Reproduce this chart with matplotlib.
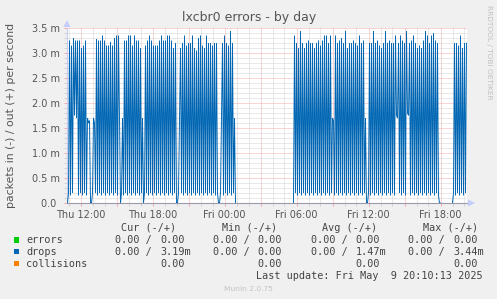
import numpy as np
import pandas as pd
import matplotlib
matplotlib.use('Agg')
from matplotlib import pyplot as plt
import matplotlib.dates as mdates
from matplotlib.patches import Polygon, Rectangle

W, H = 497, 299

# drops out (milli packets/s), one value per 5 min sample starting Thu 10:55
drops_out_thu = [
    0.0,
    0.2, 3.25, 0.15, 3.15, 0.2, 3.30, 1.75, 3.25, 1.70, 3.25, 0.15, 3.25, 0.2, 3.10, 0.15, 3.15, 0.2, 3.25, 0.15, 1.70, 1.6,
    1.65, 0.0, 0.0, 0.2, 1.7, 1.6, 0.2,
    3.28, 0.15, 3.25, 0.2, 3.25, 0.15, 3.35, 0.2, 3.25, 0.15, 3.15, 0.2, 3.15, 0.15, 3.22, 0.2, 3.15, 0.15, 3.30, 0.2, 3.35, 0.15, 3.35, 1.7,
    0.0, 0.2, 1.7, 0.15,
    3.25, 0.2, 3.25, 0.15, 3.35, 0.2, 3.35, 0.15, 3.15, 0.2, 3.35, 0.15, 3.25, 0.2, 3.25, 0.15, 3.10, 0.2, 1.7,
    0.0, 0.2,
    3.15, 0.2, 3.25, 0.15, 3.35, 0.2, 3.25, 0.15, 3.15, 0.2, 3.15, 0.15, 3.15, 0.2, 3.25, 0.15, 3.35, 0.2, 3.25, 0.15,
    3.25, 0.2, 3.35, 0.15, 3.35, 0.2, 3.25, 0.15, 3.10, 0.2, 3.20, 0.0,
    0.0, 0.2, 1.7,
    3.10, 0.2, 3.20, 0.15, 3.35, 0.2, 3.15, 0.15, 3.20, 0.2, 3.20, 0.15, 3.35, 0.2, 3.10, 0.15, 3.05, 0.2, 3.30, 0.15,
    3.35, 0.2, 3.15, 0.15, 3.10, 0.2, 3.35, 0.15, 3.20, 0.2, 3.20, 0.15, 3.15, 0.2, 3.20, 0.15, 3.20, 0.2, 0.0,
    0.0, 0.2, 1.7,
    3.20, 0.15, 3.35, 0.2, 3.20, 0.15, 3.15, 0.2, 3.44, 0.15, 3.20, 0.2, 1.7, 0.0,
]
night_gap = 57  # samples without data
drops_out_fri = [
    0.0,
    3.35, 0.2, 3.20, 0.15, 3.10, 0.2, 3.44, 0.15, 3.20, 0.2, 3.10, 0.15, 3.20, 0.2, 3.25, 0.15, 3.20, 0.2, 3.20, 0.15,
    3.10, 0.2, 3.20, 0.15, 3.25, 0.2, 3.15, 0.15, 3.25, 0.2, 3.35, 0.15, 3.35, 0.2, 3.20, 0.15, 3.35, 0.2, 1.7,
    1.65, 0.15,
    3.35, 0.2, 3.20, 0.15, 3.25, 0.2, 3.30, 0.15, 3.20, 0.2, 3.44, 0.15, 3.10, 0.2, 3.20, 0.15, 3.20, 0.2, 3.25, 0.15,
    3.20, 0.2, 3.15, 0.15, 3.35, 0.2, 3.20, 0.15, 3.25, 0.2, 1.7,
    0.0, 0.0, 0.2,
    3.20, 0.15, 3.20, 0.2, 3.44, 0.15, 3.20, 0.2, 3.25, 0.15, 3.15, 0.2, 3.10, 0.15, 3.20, 0.2, 3.44, 0.15, 3.20, 0.2,
    3.25, 0.15, 3.20, 0.2, 3.20, 0.15, 3.35, 1.75,
    1.7,
    3.20, 0.2, 3.35, 0.15, 3.25, 0.2, 3.20, 0.15, 3.44, 1.8, 1.75,
    3.20, 0.15, 3.25, 0.2, 3.35, 0.15, 3.20, 0.2, 3.10, 0.15, 3.15, 0.2, 3.10, 0.15, 3.25, 0.2, 3.44, 0.15, 3.35, 0.2,
    3.20, 0.15, 3.35, 0.2, 3.40, 0.15, 3.25, 0.2, 3.20, 0.15,
    0.0, 0.0,
]
evening_gap = 11
drops_out_eve = [
    0.0, 0.2,
    3.20, 0.15, 3.20, 0.2, 3.15, 0.15, 3.35, 0.2, 3.10, 0.15, 3.20, 0.2, 3.20, 3.19,
]

y_ticks = [0.0, 0.5, 1.0, 1.5, 2.0, 2.5, 3.0, 3.5]
y_tick_labels = ['0.0 ', '0.5 m', '1.0 m', '1.5 m', '2.0 m', '2.5 m', '3.0 m', '3.5 m']

legend_names = ['errors', 'drops', 'collisions']
legend_colors = ['#00CC00', '#0066B3', '#FF8000']
legend_headers = ['Cur (-/+)', 'Min (-/+)', 'Avg (-/+)', 'Max (-/+)']
# per row: (in, out) for Cur, Min, Avg, Max; in is None for collisions
legend_values = [
    [('0.00', '0.00'), ('0.00', '0.00'), ('0.00', '0.00'), ('0.00', '0.00')],
    [('0.00', '3.19m'), ('0.00', '0.00'), ('0.00', '1.47m'), ('0.00', '3.44m')],
    [(None, '0.00'), (None, '0.00'), (None, '0.00'), (None, '0.00')],
]

drops = np.array(drops_out_thu + [np.nan] * night_gap + drops_out_fri
                 + [np.nan] * evening_gap + drops_out_eve, dtype=float)
times = pd.date_range('2025-05-08 10:55', periods=len(drops), freq='5min')


def fx(x):
    return x / W


def fy(y):
    return 1 - y / H


fig = plt.figure(figsize=(W / 100, H / 100), dpi=100, facecolor='#F0F0F0')
ax = fig.add_axes([fx(67), fy(203), 400 / W, 175 / H])
ax.set_facecolor('white')

ax.plot(times, drops, color='#0066B3', lw=0.68, solid_joinstyle='bevel', zorder=3)

# half a sample shift so each 5 min sample sits on a pixel centre
ax.set_xlim(pd.Timestamp('2025-05-08 10:52:30'), pd.Timestamp('2025-05-09 20:12:30'))
ax.set_ylim(0, 3.5)

ax.xaxis.set_major_locator(mdates.HourLocator(byhour=range(0, 24, 3)))
ax.xaxis.set_minor_locator(mdates.HourLocator())
ax.xaxis.set_major_formatter(plt.FuncFormatter(
    lambda v, p: mdates.num2date(v).strftime('%a %H:%M') if mdates.num2date(v).hour % 6 == 0 else ''))
ax.set_yticks(y_ticks)
ax.set_yticklabels(y_tick_labels)
ax.set_yticks(np.arange(0, 3.51, 0.1), minor=True)

dot = (0, (1, 1))
ax.grid(which='major', color='#F2AAAA', ls=dot, lw=0.72, zorder=1)
ax.grid(which='minor', color='#D2D2D2', ls=dot, lw=0.72, zorder=0)
ax.set_axisbelow(True)

ax.tick_params(which='major', length=2.2, width=0.72, color='#F2AAAA', labelsize=7,
               labelcolor='#555555', pad=3.0)
ax.tick_params(which='minor', length=2.2, width=0.72, color='#D2D2D2')
for s in ['top', 'right']:
    ax.spines[s].set_visible(False)
ax.spines['left'].set_color('#C8CCF0')
ax.spines['bottom'].set_color('#9A9AAE')
ax.spines['left'].set_linewidth(0.8)
ax.spines['bottom'].set_linewidth(0.8)

# axis arrows
arrow_c = '#C4CCFA'
fig.add_artist(Polygon([(fx(468), fy(199.5)), (fx(475), fy(203)), (fx(468), fy(206.5))],
                       closed=True, transform=fig.transFigure, color=arrow_c, lw=0))
fig.add_artist(Polygon([(fx(63.5), fy(27)), (fx(67), fy(20)), (fx(70.5), fy(27))],
                       closed=True, transform=fig.transFigure, color=arrow_c, lw=0))

fig.text(fx(249), fy(18), 'lxcbr0 errors - by day', ha='center', va='center',
         fontsize=9, color='#555555')
fig.text(fx(11), fy(115), 'packets in (-) / out (+) per second', rotation=90,
         ha='center', va='center', fontsize=7.8, color='#555555')
fig.text(fx(488.5), fy(5), 'RRDTOOL / TOBI OETIKER', rotation=270,
         ha='center', va='top', fontsize=5.3, color='#C0C0C0')

mono = 'DejaVu Sans Mono'
lc = '#444444'
fs = 7.3
head_x = [120.7, 221.7, 322, 422.7]
in_x = [115, 212.7, 310.7, 408.3]
out_x = [160, 257.7, 355.7, 453.3]
row_y = [243.3, 255, 266.7]
for hx, h in zip(head_x, legend_headers):
    fig.text(fx(hx), fy(231), h, family=mono, fontsize=fs, color=lc, va='baseline')
for r, (name, col) in enumerate(zip(legend_names, legend_colors)):
    y = row_y[r]
    fig.add_artist(Rectangle((fx(14), fy(y - 0.6)), 5.4 / W, 5.4 / H,
                             transform=fig.transFigure, color=col, lw=0))
    fig.text(fx(26), fy(y), name, family=mono, fontsize=fs, color=lc, va='baseline')
    for c, (vin, vout) in enumerate(legend_values[r]):
        if vin is not None:
            fig.text(fx(in_x[c]), fy(y), vin + ' /', family=mono, fontsize=fs, color=lc, va='baseline')
        fig.text(fx(out_x[c]), fy(y), vout, family=mono, fontsize=fs, color=lc, va='baseline')

fig.text(fx(483), fy(279), 'Last update: Fri May  9 20:10:13 2025', family=mono,
         fontsize=fs, color=lc, ha='right', va='baseline')
fig.text(fx(248), fy(290.7), 'Munin 2.0.75', fontsize=5.4, color='#C4C4C4',
         ha='center', va='baseline')

fig.savefig('out.png', dpi=100, facecolor=fig.get_facecolor())
